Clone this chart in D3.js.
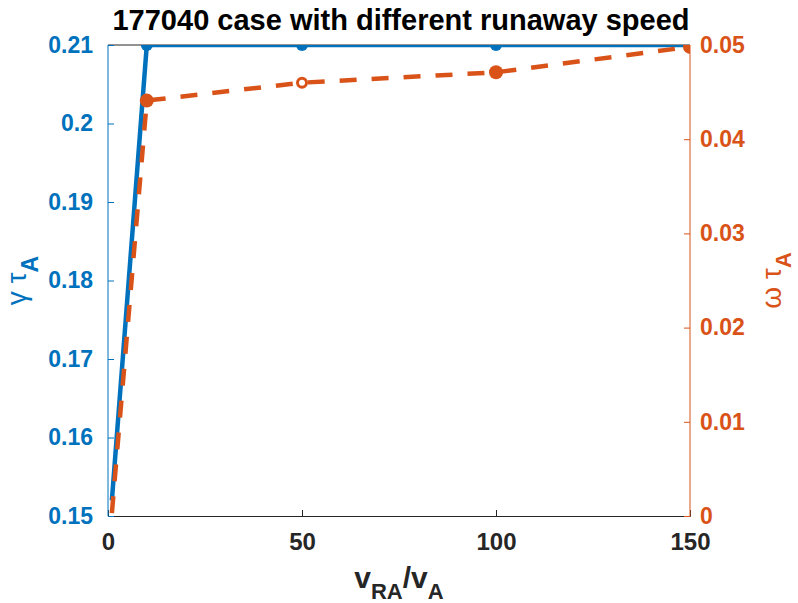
<!DOCTYPE html>
<html><head><meta charset="utf-8">
<script src="https://cdn.jsdelivr.net/npm/d3@7"></script>
<style>body{margin:0;background:#fff}svg{display:block}text{font-family:"Liberation Sans",Arial,sans-serif}</style>
</head><body>
<svg id="c" width="798" height="603"></svg>
<script>
const xVals = [1, 10, 50, 100, 150];
const gammaVals = [0.152, 0.21, 0.21, 0.21, 0.21];
const omegaVals = [0.0003, 0.0441, 0.0460, 0.0471, 0.0498];
const omegaHollow = [false, false, true, false, false];
const xTicks = [0, 50, 100, 150];
const leftTicks = [0.15, 0.16, 0.17, 0.18, 0.19, 0.2, 0.21];
const rightTicks = [0, 0.01, 0.02, 0.03, 0.04, 0.05];
const titleText = "177040 case with different runaway speed";

const blue = "#0072BD", orange = "#D95319", dark = "#262626";
const svg = d3.select("#c");
const m = {l:108, r:690, t:45, b:516};
const x = d3.scaleLinear().domain([0,150]).range([m.l, m.r]);
const yL = d3.scaleLinear().domain([0.15,0.21]).range([m.b, m.t]);
const yR = d3.scaleLinear().domain([0,0.05]).range([m.b, m.t]);

svg.append("defs").append("clipPath").attr("id","clip")
  .append("rect").attr("x",m.l).attr("y",m.t).attr("width",m.r-m.l).attr("height",m.b-m.t);

// box top
svg.append("line").attr("x1",m.l).attr("x2",m.r).attr("y1",m.t).attr("y2",m.t).attr("stroke",dark).attr("stroke-width",1);

// x axis
const gx = svg.append("g").attr("transform",`translate(0,${m.b})`)
  .call(d3.axisBottom(x).tickValues(xTicks).tickSize(-6).tickPadding(17).tickFormat(d3.format("d")));
gx.select(".domain").attr("stroke",dark);
gx.selectAll(".tick line").attr("stroke",dark);
gx.selectAll("text").attr("fill",dark).attr("font-size",24).attr("font-weight","bold");

// left axis
const gl = svg.append("g").attr("transform",`translate(${m.l},0)`)
  .call(d3.axisLeft(yL).tickValues(leftTicks).tickSize(-6).tickPadding(15).tickFormat(d=>String(+d.toFixed(2))));
gl.select(".domain").attr("stroke",blue).attr("d",`M0,${m.b}V${m.t}`);
gl.selectAll(".tick line").attr("stroke",blue);
gl.selectAll("text").attr("fill",blue).attr("font-size",23).attr("font-weight","bold");

// right axis
const gr = svg.append("g").attr("transform",`translate(${m.r},0)`)
  .call(d3.axisRight(yR).tickValues(rightTicks).tickSize(-6).tickPadding(10).tickFormat(d=>String(+d.toFixed(2))));
gr.select(".domain").attr("stroke",orange).attr("d",`M0,${m.b}V${m.t}`);
gr.selectAll(".tick line").attr("stroke",orange);
gr.selectAll("text").attr("fill",orange).attr("font-size",23).attr("font-weight","bold");

const plot = svg.append("g").attr("clip-path","url(#clip)");
const dataG = xVals.map((v,i)=>({x:v,y:gammaVals[i]}));
const dataO = xVals.map((v,i)=>({x:v,y:omegaVals[i],h:omegaHollow[i]}));

plot.append("path").datum(dataG).attr("fill","none").attr("stroke",blue).attr("stroke-width",4.5)
  .attr("d", d3.line().x(d=>x(d.x)).y(d=>yL(d.y)));
plot.selectAll(".mg").data(dataG.slice(1)).join("circle").attr("cx",d=>x(d.x)).attr("cy",d=>yL(d.y)).attr("r",6).attr("fill",blue);

plot.append("path").datum(dataO).attr("fill","none").attr("stroke",orange).attr("stroke-width",4.5)
  .attr("stroke-dasharray","17,15")
  .attr("d", d3.line().x(d=>x(d.x)).y(d=>yR(d.y)));
plot.selectAll(".mo").data(dataO.slice(1)).join("circle").attr("cx",d=>x(d.x)).attr("cy",d=>yR(d.y))
  .attr("r",d=>d.h?4.5:7).attr("fill",d=>d.h?"#fff":orange).attr("stroke",orange).attr("stroke-width",d=>d.h?3:0);

// title
svg.append("text").attr("x",(m.l+m.r)/2 + 2).attr("y",30).attr("text-anchor","middle")
  .attr("font-size",29).attr("font-weight","bold").attr("fill","#000").text(titleText);

// x label
const xl = svg.append("text").attr("x",(m.l+m.r)/2).attr("y",588).attr("text-anchor","middle")
  .attr("font-size",30).attr("font-weight","bold").attr("fill",dark);
xl.append("tspan").text("v");
xl.append("tspan").attr("font-size",22).attr("dy",11).text("RA");
xl.append("tspan").attr("dy",-11).text("/v");
xl.append("tspan").attr("font-size",22).attr("dy",11).text("A");

// left y label
const yl = svg.append("text").attr("transform",`translate(26,${(m.t+m.b)/2}) rotate(-90)`).attr("text-anchor","middle")
  .attr("font-size",28).attr("fill",blue);
yl.append("tspan").text("γ τ");
yl.append("tspan").attr("font-size",23).attr("font-weight","bold").attr("dy",12).text("A");

// right y label
const yr = svg.append("text").attr("transform",`translate(781,${(m.t+m.b)/2}) rotate(-90)`).attr("text-anchor","middle")
  .attr("font-size",28).attr("fill",orange);
yr.append("tspan").text("ω τ");
yr.append("tspan").attr("font-size",22).attr("font-weight","bold").attr("dy",10).text("A");
</script>
</body></html>
